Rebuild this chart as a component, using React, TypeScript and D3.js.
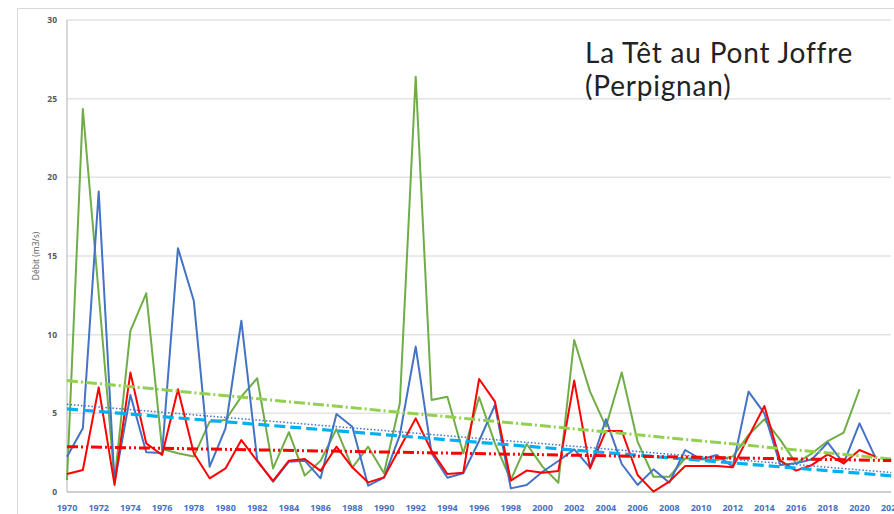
import React from "react";
import * as d3 from "d3";

const years: number[] = d3.range(1970, 2022);
const blueValues: number[] = [
  2.24, 4.05, 19.1, 0.6, 6.17, 2.52, 2.48, 15.5, 12.16, 1.61,
  4.05, 10.89, 2.03, 0.65, 1.93, 1.99, 0.87, 4.96, 4.15, 0.4,
  0.91, 3.62, 9.24, 2.46, 0.91, 1.19, 3.24, 5.53, 0.23, 0.45,
  1.29, 1.97, 2.71, 1.55, 4.62, 1.78, 0.45, 1.44, 0.59, 2.67,
  2.08, 2.35, 1.61, 6.38, 5.0, 1.72, 1.82, 2.08, 3.14, 1.82,
  4.36, 2.2,
];
const greenValues: number[] = [
  0.76, 24.35, 12.6, 0.7, 10.24, 12.63, 2.73, 2.46, 2.25, 4.47,
  4.58, 6.06, 7.23, 1.5, 3.8, 1.04, 1.99, 4.0, 1.55, 2.88,
  1.19, 5.64, 26.4, 5.85, 6.06, 2.46, 6.02, 3.09, 0.76, 3.05,
  1.61, 0.59, 9.66, 6.38, 4.15, 7.59, 3.2, 0.97, 0.97, 2.14,
  2.08, 2.03, 2.25, 3.62, 4.62, 3.31, 1.82, 2.46, 3.24, 3.77,
  6.53,
];
const redValues: number[] = [
  1.14, 1.4, 6.65, 0.45, 7.59, 3.09, 2.35, 6.53, 2.46, 0.87,
  1.5, 3.3, 1.97, 0.7, 1.99, 2.1, 1.34, 2.88, 1.57, 0.61,
  0.93, 2.8, 4.68, 2.61, 1.14, 1.23, 7.18, 5.74, 0.72, 1.36,
  1.23, 1.34, 7.08, 1.5, 3.88, 3.88, 1.08, 0.02, 0.66, 1.65,
  1.65, 1.65, 1.57, 3.52, 5.47, 1.99, 1.36, 1.72, 2.39, 1.82,
  2.67, 2.25,
];
// trend lines: [start year value, end year value]
const trendYears: number[] = [1970, 2022];
const greenTrend: number[] = [7.08, 2.1];
const blueTrend: number[] = [5.57, 1.24];
const cyanTrend: number[] = [5.28, 1.03];
const redTrend: number[] = [2.88, 2.0];

const xTicks: number[] = d3.range(1970, 2023, 2);
const yTicks: number[] = [0, 5, 10, 15, 20, 25, 30];
const titleLines: string[] = ["La Têt au Pont Joffre", "(Perpignan)"];
const yTitle = "Débit (m3/s)";

export default function App() {
  const W = 894;
  const H = 514;
  const x = d3.scaleLinear().domain([1970, 2022]).range([67, 891.2]);
  const y = d3.scaleLinear().domain([0, 30]).range([492, 20]);

  const line = d3
    .line<[number, number]>()
    .x((d) => x(d[0]))
    .y((d) => y(d[1]));

  const series = [
    { vals: greenValues, color: "#70AD47" },
    { vals: blueValues, color: "#4472C4" },
    { vals: redValues, color: "#FF0000" },
  ];

  const trends = [
    { vals: greenTrend, color: "#92D050", width: 3, dash: "11,3,2,3" },
    { vals: blueTrend, color: "#4472C4", width: 1.5, dash: "1.5,2" },
    { vals: cyanTrend, color: "#00B0F0", width: 3.2, dash: "11,5" },
    { vals: redTrend, color: "#FF0000", width: 3, dash: "11,3,2,3,2,3" },
  ];

  return (
    <svg
      width={W}
      height={H}
      style={{ position: "absolute", left: 0, top: 0, background: "#fff" }}
    >
      <rect x={17.5} y={8.5} width={W} height={H} fill="#fff" stroke="#d9d9d9" />
      {yTicks.map((t) => (
        <line
          key={t}
          x1={67}
          x2={891}
          y1={y(t)}
          y2={y(t)}
          stroke={t === 0 ? "#bfbfbf" : "#e3e3e3"}
          strokeWidth={1.5}
        />
      ))}
      <line x1={67} x2={67} y1={y(30)} y2={y(0)} stroke="#bfbfbf" strokeWidth={1.2} />
      {yTicks.map((t) => (
        <text
          key={t}
          x={57}
          y={y(t)}
          dy="0.35em"
          textAnchor="end"
          fontFamily="'Open Sans', sans-serif"
          fontWeight="bold"
          fontSize={8.5}
          fill="#595959"
        >
          {t}
        </text>
      ))}
      {xTicks.map((t) => (
        <text
          key={t}
          x={x(t)}
          y={511}
          textAnchor="middle"
          fontFamily="'Open Sans', sans-serif"
          fontWeight="bold"
          fontSize={9}
          fill="#4472C4"
        >
          {t}
        </text>
      ))}
      <text
        transform={`translate(39,256) rotate(-90)`}
        textAnchor="middle"
        fontFamily="'Open Sans', sans-serif"
        fontSize={8.5}
        fill="#595959"
      >
        {yTitle}
      </text>
      {series.map((s, i) => (
        <path
          key={i}
          d={line(s.vals.map((v, j) => [years[j], v] as [number, number])) || ""}
          fill="none"
          stroke={s.color}
          strokeWidth={2}
          strokeLinejoin="round"
        />
      ))}
      {trends.map((t, i) => (
        <path
          key={i}
          d={line(t.vals.map((v, j) => [trendYears[j], v] as [number, number])) || ""}
          fill="none"
          stroke={t.color}
          strokeWidth={t.width}
          strokeDasharray={t.dash}
        />
      ))}
      {titleLines.map((l, i) => (
        <text
          key={i}
          x={585}
          y={63 + i * 33}
          fontFamily="Lato, sans-serif"
          fontSize={28}
          letterSpacing={0.8}
          fill="#222"
        >
          {l}
        </text>
      ))}
    </svg>
  );
}
